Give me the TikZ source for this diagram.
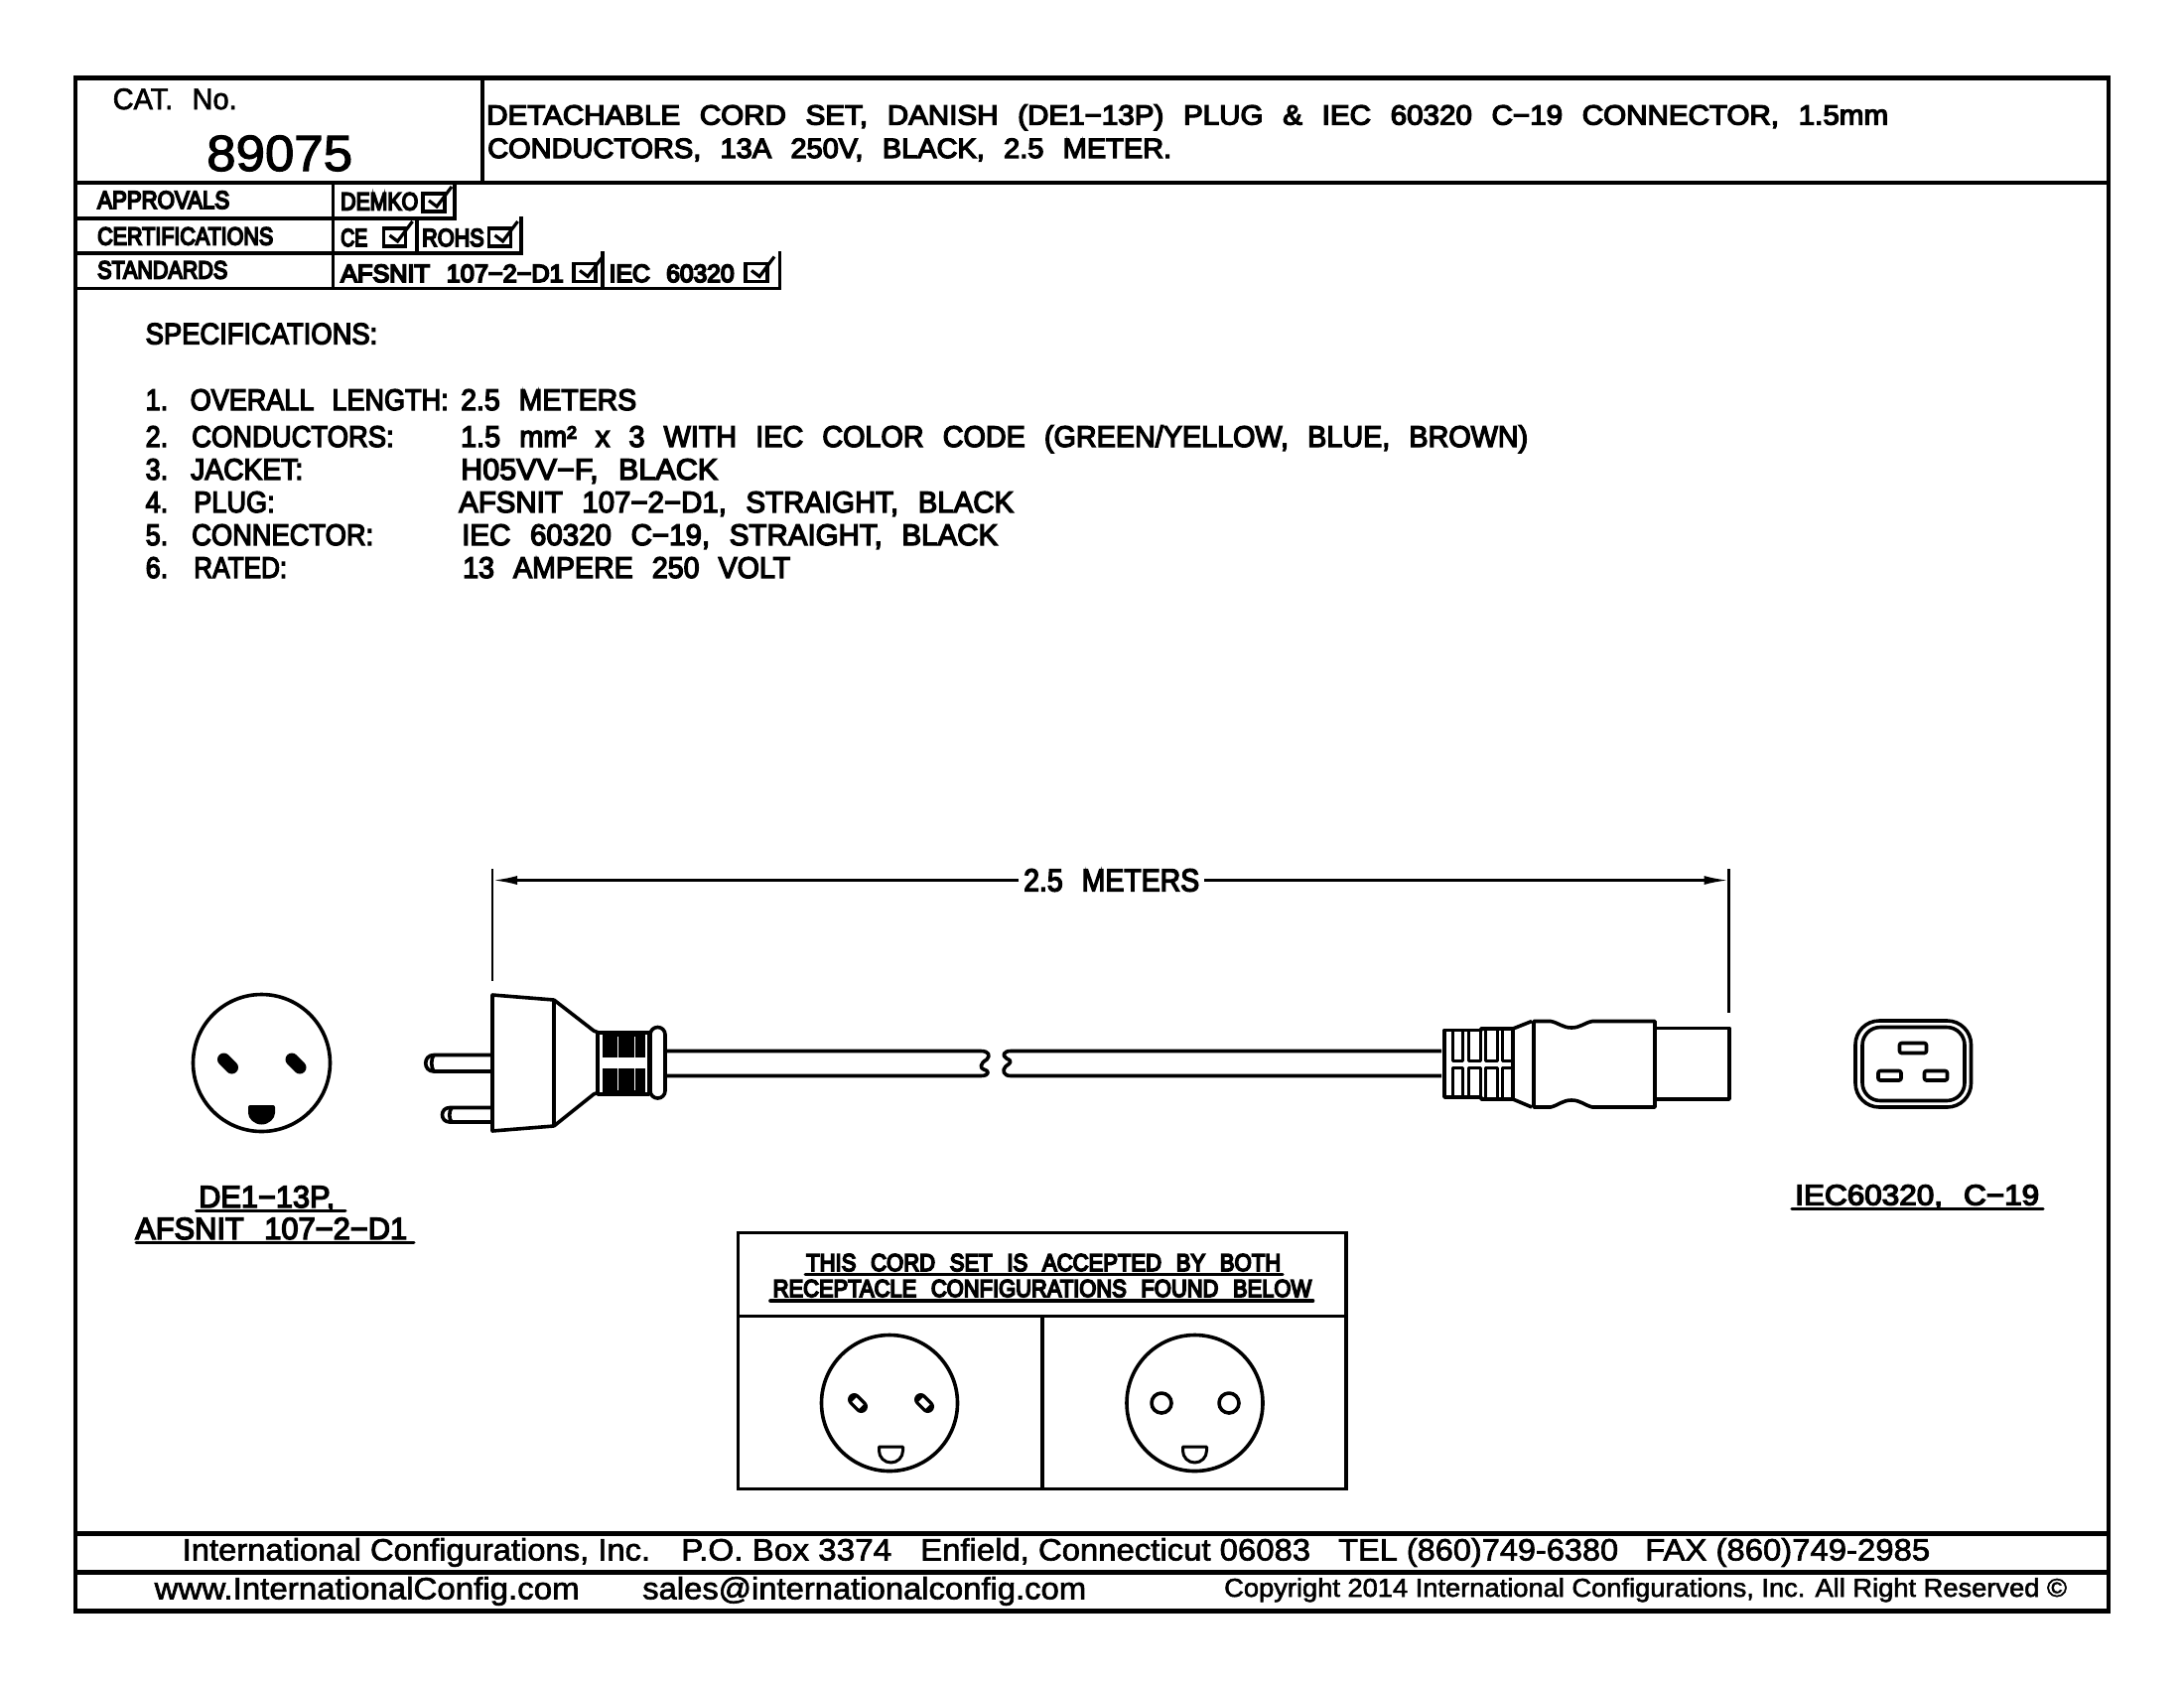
\documentclass[tikz,border=0pt]{standalone}
\usepackage{fontspec}
\usepackage{graphicx}
\usetikzlibrary{arrows.meta}
\setmainfont{Liberation Sans}
\newfontfamily\cad[WordSpace=2.4,FakeBold=4.5]{Liberation Sans}
\newfontfamily\cadb[WordSpace=2.4,FakeBold=7]{Liberation Sans}
\newfontfamily\cadthin[WordSpace=2.4,FakeBold=2.2]{Liberation Sans}
\newfontfamily\arial[FakeBold=2]{Liberation Sans}
\newsavebox\tbox
% name, x, baseline, width, size, font, text
\newcommand{\tx}[7]{\node[txt,name=#1] at (#2,#3) {#6\fontsize{#5}{#5}\selectfont\sbox\tbox{#7}\pgfmathsetmacro\rr{#4/\the\wd\tbox}\scalebox{\rr}[1]{\usebox\tbox}};}
% check box with left, top
\newcommand{\chk}[2]{\draw[cbox] (#1,#2) rectangle ++(22,18);
  \draw[cbox] (#1+6,#2+7) -- ++(8,6) -- ++(15,-20);}
\tikzset{
  txt/.style={anchor=base west,inner sep=0pt,text=black},
  frameline/.style={line width=4.2pt,line cap=rect},
  tabline/.style={line width=3.6pt,line cap=rect},
  cbox/.style={line width=3.2pt,line join=miter},
  obj/.style={line width=3.6pt,line join=round},
  thinobj/.style={line width=3pt,line join=round},
  uline/.style={line width=3pt,line cap=round},
  dimline/.style={line width=2.6pt},
  dimtip/.style={-{Latex[length=25pt,width=9pt]}},
}
\begin{document}
\begin{tikzpicture}[x=1pt,y=-1pt]
\useasboundingbox (0,0) rectangle (2200,1700);
\fill[white] (0,0) rectangle (2200,1700);
% outer frame and header
\draw[frameline] (76,78.5) rectangle (2124,1622.5);
\draw[frameline] (486,78.5) -- (486,184);
\draw[frameline] (76,184) -- (2124,184);
\draw[frameline] (76,1544.5) -- (2124,1544.5);
\draw[frameline] (76,1583.5) -- (2124,1583.5);
% approvals table
\draw[tabline] (76,220) -- (458,220) -- (458,184);
\draw[tabline] (76,255) -- (525,255) -- (525,220);
\draw[tabline] (76,290.5) -- (785.5,290.5) -- (785.5,255);
\draw[tabline] (335.5,184) -- (335.5,290.5);
\draw[tabline] (420,220) -- (420,255);
\draw[tabline] (607,255) -- (607,290.5);
% header text
\tx{catlabel}{113.5}{110}{125}{30}{\cadthin}{CAT. No.}
\tx{catno}{208}{172}{147}{51}{\cadthin}{89075}
\tx{title1}{490}{125.5}{1412}{28}{\cad}{DETACHABLE CORD SET, DANISH (DE1−13P) PLUG \& IEC 60320 C−19 CONNECTOR, 1.5mm}
\tx{title2}{491}{159}{689}{28}{\cad}{CONDUCTORS, 13A 250V, BLACK, 2.5 METER.}
\tx{approvals}{98}{210}{133}{25}{\cadb}{APPROVALS}
\tx{certs}{98}{246.5}{177}{25}{\cadb}{CERTIFICATIONS}
\tx{standards}{98}{280.5}{131}{25}{\cadb}{STANDARDS}
\tx{demko}{343}{211.5}{78}{25}{\cadb}{DEMKO}
\tx{ce}{343}{248}{27}{25}{\cadb}{CE}
\tx{rohs}{425}{248}{62.5}{25}{\cadb}{ROHS}
\tx{afsnit}{343}{284}{224.5}{25}{\cadb}{AFSNIT 107−2−D1}
\tx{iec}{613.5}{284}{126}{25}{\cadb}{IEC 60320}
\chk{426}{195}
\chk{386.5}{230}
\chk{492.5}{230}
\chk{578}{265.5}
\chk{751}{265.5}
% specifications
\tx{spechead}{146.5}{346.5}{233.5}{30}{\cad}{SPECIFICATIONS:}
\tx{n1}{146.5}{413}{22.5}{30}{\cad}{1.}
\tx{l1}{191.5}{413}{260}{30}{\cad}{OVERALL LENGTH:}
\tx{v1}{464}{413}{177}{30}{\cad}{2.5 METERS}
\tx{n2}{146.5}{450}{22.5}{30}{\cad}{2.}
\tx{l2}{193}{450}{203.5}{30}{\cad}{CONDUCTORS:}
\tx{v2}{464}{450}{1075}{30}{\cad}{1.5 mm² x 3 WITH IEC COLOR CODE (GREEN/YELLOW, BLUE, BROWN)}
\tx{n3}{146.5}{483}{22.5}{30}{\cad}{3.}
\tx{l3}{192}{483}{113}{30}{\cad}{JACKET:}
\tx{v3}{464}{483}{259}{30}{\cad}{H05VV−F, BLACK}
\tx{n4}{146.5}{516}{22.5}{30}{\cad}{4.}
\tx{l4}{195}{516}{81.5}{30}{\cad}{PLUG:}
\tx{v4}{462}{516}{559}{30}{\cad}{AFSNIT 107−2−D1, STRAIGHT, BLACK}
\tx{n5}{146.5}{549}{22.5}{30}{\cad}{5.}
\tx{l5}{193}{549}{183}{30}{\cad}{CONNECTOR:}
\tx{v5}{465}{549}{540}{30}{\cad}{IEC 60320 C−19, STRAIGHT, BLACK}
\tx{n6}{146.5}{582}{22.5}{30}{\cad}{6.}
\tx{l6}{195}{582}{94}{30}{\cad}{RATED:}
\tx{v6}{466}{582}{330}{30}{\cad}{13 AMPERE 250 VOLT}
% dimension
\tx{dimlabel}{1031}{897.5}{177}{32}{\cad}{2.5 METERS}
\coordinate (dimL) at (496,886.5);
\coordinate (dimR) at (1741.5,886.5);
\coordinate (extLb) at (496,988);
\coordinate (extRb) at (1741.5,1020);
\draw[dimline] (496,875) -- (extLb);
\draw[dimline] (1741.5,875) -- (extRb);
\draw[dimline,dimtip,shorten <=5pt] (dimlabel.west |- dimL) -- (dimL);
\draw[dimline,dimtip,shorten <=5pt] (dimlabel.east |- dimR) -- (dimR);
% plug face
\draw[obj] (263.5,1070.5) circle (69);
\foreach \cx in {229.5,298}{\draw[line width=13pt,line cap=round] (\cx-4,1071-4) -- (\cx+4,1071+4);}
\fill[rounded corners=2pt] (250,1113) -- (277,1113) -- (277,1119) arc (0:180:13.5) -- cycle;
% plug prongs
\draw[obj] (496,1062.5) -- (437,1062.5) .. controls (426,1062.5) and (426,1079) .. (437,1079) -- (496,1079);
\draw[obj] (437,1062.5) .. controls (434,1066) and (434,1075) .. (437,1079);
\draw[obj] (496,1115.5) -- (453,1115.5) .. controls (443,1115.5) and (443,1130) .. (453,1130) -- (496,1130);
\draw[obj] (455,1115.5) .. controls (452,1120) and (452,1126) .. (455,1130);
% plug body
\draw[obj] (496,1002) -- (558,1007) -- (558,1134) -- (496,1139) -- cycle;
\draw[obj] (558,1007) -- (598,1038) -- (603,1040);
\draw[obj] (558,1134) -- (598,1102) -- (603,1100);
% strain relief
\draw[obj] (602,1040) rectangle (654,1102);
\fill (607,1040) rectangle (650,1065);
\fill (607,1076) rectangle (650,1102);
\foreach \sx in {622.5,639}{
  \draw[white,line width=1pt] (\sx,1044) -- (\sx,1065);
  \draw[white,line width=1pt] (\sx,1076) -- (\sx,1098);}
\draw[obj,fill=white,rounded corners=7.4pt] (655,1034.5) rectangle (670,1106);
% cable
\draw[obj] (672,1058.5) -- (988,1058.5) .. controls (996,1058.5) and (998,1063) .. (994,1067) .. controls (987,1071) and (987,1076) .. (991,1077) .. controls (997,1078) and (997,1083.5) .. (988,1083.5) -- (672,1083.5);
\draw[obj] (1452,1058.5) -- (1018,1058.5) .. controls (1011,1058.5) and (1009,1063) .. (1014,1066) .. controls (1021,1069) and (1017,1071) .. (1013,1074) .. controls (1009,1078) and (1011,1083.5) .. (1018,1083.5) -- (1452,1083.5);
% connector
\draw[obj,fill=white] (1455,1037.5) -- (1492,1037.5) -- (1492,1036) -- (1524,1036) -- (1524,1107) -- (1492,1107) -- (1492,1105) -- (1455,1105) -- cycle;
\foreach \ua/\ub in {1463/1473,1479/1491,1496/1508,1513/1524}{
  \draw[thinobj] (\ua,1037) -- (\ua,1068) -- (\ub,1068) -- (\ub,1037);
  \draw[thinobj] (\ua,1105) -- (\ua,1075) -- (\ub,1075) -- (\ub,1105);}
\draw[obj] (1524,1036) -- (1543,1028.5);
\draw[obj] (1524,1107) -- (1543,1115);
\draw[obj] (1545,1028.5) -- (1562,1028.5) .. controls (1570,1030) and (1574,1035) .. (1583,1035) .. controls (1592,1035) and (1596,1030) .. (1604,1028.5) -- (1667,1028.5) -- (1667,1115) -- (1604,1115) .. controls (1596,1113) and (1592,1108) .. (1583,1108) .. controls (1574,1108) and (1570,1113) .. (1562,1115) -- (1545,1115) -- cycle;
\draw[obj] (1667,1035.5) -- (1742,1035.5) -- (1742,1107) -- (1667,1107);
% C19 face
\draw[obj,rounded corners=24pt] (1869,1028) rectangle (1985.5,1115);
\draw[obj,rounded corners=18pt] (1876,1034.5) rectangle (1979,1108.5);
\draw[obj,rounded corners=2pt] (1913.5,1050.5) rectangle (1940.5,1060.5);
\draw[obj,rounded corners=2pt] (1892,1078.5) rectangle (1915,1088);
\draw[obj,rounded corners=2pt] (1938.5,1078.5) rectangle (1961.5,1088);
% face labels
\tx{plugname}{200}{1216}{137}{31}{\cad}{DE1−13P,}
\draw[uline] (197.5,1219) -- (348,1219);
\tx{plugstd}{136}{1248}{274}{31}{\cad}{AFSNIT 107−2−D1}
\draw[uline] (137,1251.5) -- (417,1251.5);
\tx{connname}{1808}{1213.5}{246}{29}{\cad}{IEC60320, C−19}
\draw[uline,line width=3.4pt] (1805,1217.5) -- (2058,1217.5);
% acceptance box
\draw[tabline] (743.5,1241.5) rectangle (1356,1499.5);
\draw[tabline] (743.5,1325.5) -- (1356,1325.5);
\draw[tabline] (1050,1325.5) -- (1050,1499.5);
\tx{acc1}{812}{1280}{478}{24.5}{\cadb}{THIS CORD SET IS ACCEPTED BY BOTH}
\draw[uline] (811,1283.5) -- (1292,1283.5);
\tx{acc2}{778.5}{1306}{542.5}{24.5}{\cadb}{RECEPTACLE CONFIGURATIONS FOUND BELOW}
\draw[uline,line width=3.6pt] (776,1310) -- (1322.5,1310);
% receptacles
\draw[obj] (896,1413) circle (68.5);
\foreach \cx in {864,931}{
  \draw[line width=13pt,line cap=round] (\cx-3.5,1413-3.5) -- (\cx+3.5,1413+3.5);
  \draw[white,line width=6pt,line cap=butt] (\cx-3.5,1413-3.5) -- (\cx+3.5,1413+3.5);}
\draw[thinobj] (885.5,1457) -- (909.5,1457) -- (909.5,1461) arc (0:180:12) -- cycle;
\draw[obj] (1203.5,1413) circle (68.5);
\foreach \cx in {1170,1238}{\draw[obj] (\cx,1413) circle (10);}
\draw[thinobj] (1191.5,1457) -- (1215.5,1457) -- (1215.5,1461) arc (0:180:12) -- cycle;
% footer
\tx{f1}{183.5}{1571.5}{471.5}{31}{\arial}{International Configurations, Inc.}
\tx{f2}{686}{1571.5}{212}{31}{\arial}{P.O. Box 3374}
\tx{f3}{927}{1571.5}{393}{31}{\arial}{Enfield, Connecticut 06083}
\tx{f4}{1348}{1571.5}{282}{31}{\arial}{TEL (860)749-6380}
\tx{f5}{1657}{1571.5}{287}{31}{\arial}{FAX (860)749-2985}
\tx{f6}{155.5}{1610.5}{428}{31}{\arial}{www.InternationalConfig.com}
\tx{f7}{647}{1610.5}{447}{31}{\arial}{sales@internationalconfig.com}
\tx{f8}{1233}{1608}{849}{26}{\arial}{Copyright 2014 International Configurations, Inc. All Right Reserved ©}
\end{tikzpicture}
\end{document}
